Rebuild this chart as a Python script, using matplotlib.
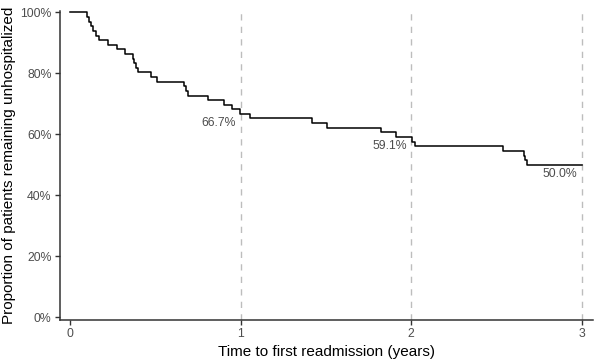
import numpy as np
import matplotlib
matplotlib.use("Agg")
import matplotlib.pyplot as plt
from matplotlib.ticker import FuncFormatter

# Kaplan-Meier style curve: time to first readmission

#=====================================================================
#     Data
#
event_years = [0.098, 0.110, 0.123, 0.137, 0.152, 0.168, 0.225, 0.275,
               0.322, 0.367, 0.378, 0.389, 0.400, 0.478, 0.513, 0.668,
               0.679, 0.690, 0.810, 0.902, 0.951, 0.995, 1.058, 1.420,
               1.507, 1.826, 1.910, 2.005, 2.020, 2.540, 2.660, 2.670,
               2.680]
surv_pct    = [98.5, 97.0, 95.5, 93.9, 92.4, 90.9, 89.4, 87.9,
               86.4, 84.8, 83.3, 81.8, 80.3, 78.8, 77.3, 75.8,
               74.2, 72.7, 71.2, 69.7, 68.2, 66.7, 65.2, 63.6,
               62.1, 60.6, 59.1, 57.6, 56.1, 54.5, 53.0, 51.5,
               50.0]
follow_end  = 3.0

mark_years  = [1, 2, 3]
mark_pct    = [66.7, 59.1, 50.0]
mark_labels = ["66.7%", "59.1%", "50.0%"]

x_ticks     = [0, 1, 2, 3]
y_ticks     = [0, 20, 40, 60, 80, 100]
#=====================================================================

plt.rcParams['font.family'] = ['Liberation Sans', 'DejaVu Sans']

t = np.concatenate([[0.0], event_years, [follow_end]])
s = np.concatenate([[100.0], surv_pct, [surv_pct[-1]]]) / 100.0

fig = plt.figure(figsize=(5.94, 3.60), dpi=100)
ax = fig.add_axes([0.101, 0.111, 0.8965, 0.858])

for xm in mark_years:
    ax.axvline(xm, color='#bdbdbd', lw=1.0, ls=(0, (4.5, 4.5)), zorder=1)

ax.step(t, s, where='post', color='black', lw=1.1, zorder=3)

for xm, ym, lab in zip(mark_years, mark_pct, mark_labels):
    ax.annotate(lab, (xm, ym / 100.0), xytext=(-3, -2.5),
                textcoords='offset points', ha='right', va='top',
                fontsize=8.8, color='#4d4d4d')

ax.set_xlim(-0.058, 3.063)
ax.set_ylim(-0.0098, 1.004)
ax.set_xticks(x_ticks)
ax.set_yticks([v / 100.0 for v in y_ticks])
ax.yaxis.set_major_formatter(FuncFormatter(lambda v, p: f"{v*100:.0f}%"))

for side in ['top', 'right']:
    ax.spines[side].set_visible(False)
for side in ['left', 'bottom']:
    ax.spines[side].set_color('#333333')
    ax.spines[side].set_linewidth(1.1)

ax.tick_params(axis='both', length=3.5, width=1.0, color='#333333',
               labelsize=8.8, labelcolor='#4d4d4d', pad=2.5)

ax.set_xlabel('Time to first readmission (years)', fontsize=11,
              color='black', labelpad=3)
ax.set_ylabel('Proportion of patients remaining unhospitalized',
              fontsize=11, color='black', labelpad=3)

fig.savefig('out.png', dpi=100)
